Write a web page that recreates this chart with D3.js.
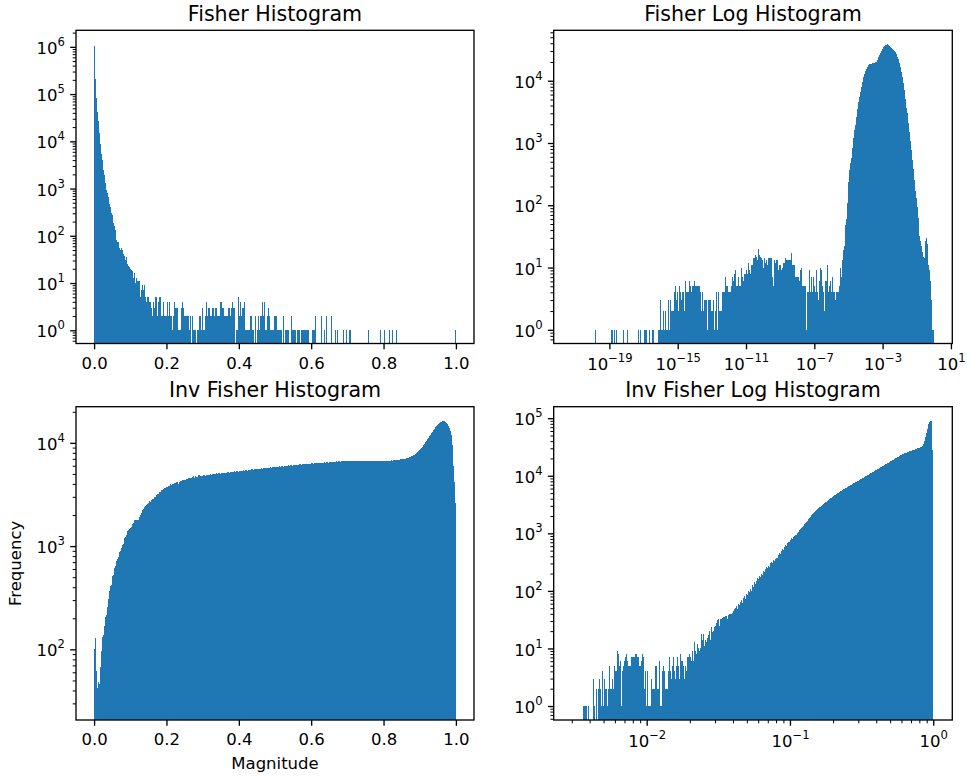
<!DOCTYPE html>
<html lang="en">
<head>
  <meta charset="UTF-8">
  <title>Fisher histograms</title>
  <script src="https://d3js.org/d3.v7.min.js"></script>
  <style>
    body {
      margin: 0;
      background: #fff;
    }
    text {
      font-family: "DejaVu Sans", sans-serif;
    }
  </style>
</head>
<body>
  <script>
    // Counts per bin (one bin is about one pixel wide)
    // Fisher Histogram: 362 linear bins on [0, 1]
    const fisherCounts = [
      1050000,210000,81000,42000,27000,15000,8700,5300,4100,2500,
      1900,1300,950,790,650,480,410,307,273,187,
      160,131,83,73,73,56,49,55,49,41,
      38,30,36,25,23,22,20,19,18,13,
      16,10,13,11,11,11,5,7,9,7,
      9,5,4,5,5,4,4,3,2,4,
      3,5,5,2,4,5,
      5,2,2,4,2,2,2,4,2,4,
      2,2,1,2,4,3,3,3,1,1,
      1,3,4,3,2,2,2,2,2,1,
      2,0,2,1,1,1,0,1,1,2,
      2,1,3,1,1,2,4,2,3,3,
      2,2,3,3,2,3,3,2,2,2,
      4,4,3,3,2,2,2,2,3,3,
      2,3,4,3,3,0,1,1,5,2,
      4,2,3,3,4,1,1,1,1,1,
      2,2,1,1,0,2,0,1,2,1,
      2,2,4,2,4,1,1,2,3,2,
      1,1,1,1,2,2,2,1,1,1,
      1,1,0,2,0,1,1,1,1,0,
      0,2,1,1,1,1,0,1,1,1,
      0,1,1,1,1,1,1,1,1,0,
      0,0,1,1,1,2,0,0,0,0,
      0,2,0,0,1,0,2,0,0,0,
      0,2,0,0,0,1,0,1,0,0,
      0,0,0,1,0,0,1,0,0,1,
      1,0,0,0,0,0,0,0,0,0,
      0,0,0,0,0,0,0,0,1,0,
      0,0,0,0,0,0,0,0,0,0,
      1,0,0,0,1,0,0,0,0,1,
      0,0,1,0,0,0,1,0,0,0,
      0,0,0,0,0,0,0,0,0,0,
      0,0,0,0,0,0,0,0,0,0,
      0,0,0,0,0,0,0,0,0,0,
      0,0,0,0,0,0,0,0,0,0,
      0,0,0,0,0,0,0,0,0,0,
      0,0,0,0,0,1
    ];

    // Fisher Log Histogram: 362 log bins on [1e-21.2, 1]
    const fisherLogCounts = [
      0,0,0,0,0,0,0,0,
      0,0,0,0,0,0,0,0,0,0,
      0,0,0,0,0,1,0,0,0,0,
      0,0,0,0,0,0,0,0,0,0,
      0,1,1,0,1,0,1,0,0,0,
      0,0,0,1,0,0,0,1,0,0,
      0,0,0,0,0,0,0,0,1,0,
      1,0,0,0,1,1,1,0,0,1,
      0,0,1,1,0,0,0,0,1,1,
      3,1,1,2,1,2,1,1,3,1,
      3,2,2,2,4,5,3,4,2,5,
      4,3,4,4,2,6,4,4,4,6,
      5,4,5,5,6,5,5,5,5,5,
      4,2,4,2,3,3,3,1,3,3,
      3,2,2,3,1,2,4,1,4,2,
      2,2,4,4,4,7,5,5,4,4,
      4,5,7,6,8,9,5,5,7,5,
      5,10,7,6,8,8,9,8,12,9,
      8,11,11,14,14,16,15,13,20,16,
      15,14,13,10,14,12,13,11,14,14,
      14,14,7,5,13,12,13,13,9,11,
      11,9,10,12,12,14,13,13,13,13,
      13,17,11,11,11,7,7,7,7,6,
      9,10,5,5,5,5,1,4,4,9,
      4,7,4,7,5,4,9,4,3,6,
      10,9,5,4,2,6,6,11,4,5,
      6,4,7,4,4,3,4,4,4,5,
      10,7,13,19,22,48,60,108,235,370,
      470,570,830,1200,1620,1950,2580,3520,4620,5560,
      6680,8040,9680,11400,12900,14600,15500,16900,17800,18400,
      18900,18900,19100,19100,19500,19800,20300,21600,23800,26000,
      27600,30400,32300,34400,36100,37000,38000,38500,38000,36500,
      35200,33900,32700,31200,30400,29000,26900,24400,22100,19500,
      16900,13600,11300,9100,7100,5050,3610,3000,2130,1530,
      1060,760,540,380,250,172,130,95,62,32,
      27,22,18,15,14,27,30,24,11,9,
      6,3,1,1
    ];

    // Inv Fisher Histogram: 362 linear bins on [0, 1]
    const invCounts = [
      100,130,62,42,48,46,68,96,132,137,
      170,205,215,258,310,366,415,420,515,523,
      617,645,715,745,788,870,905,965,1024,1040,
      1188,1230,1295,1397,1420,1462,1485,1530,1625,1665,
      1785,1785,1785,1785,1785,1905,1995,2115,2215,2285,
      2405,2460,2495,2570,2630,2710,2690,2790,2830,2890,
      3000,3000,3120,3190,3210,3310,3350,3460,3485,3565,
      3620,3670,3700,3750,3830,3860,3950,3890,4010,4010,
      4100,4070,4140,4140,4010,4200,4230,4260,4330,4360,
      4360,4390,4420,4460,4520,4590,4550,4590,4660,4790,
      4590,4820,4720,4720,4860,4860,
      4780,4800,4750,4830,4850,4800,4880,4900,4860,4920,
      4950,4900,4970,5000,4960,5020,5050,5000,5060,5080,
      5040,5100,5120,5080,5140,5160,5110,5180,5200,5150,
      5210,5240,5200,5260,5280,5230,5300,5320,5270,5340,
      5360,5310,5380,5400,5350,5420,5440,5390,5460,5490,
      5440,5520,5540,5490,5560,5580,5530,5600,5620,5570,
      5640,5660,5610,5680,5700,5650,5720,5750,5700,5770,
      5790,5740,5810,5830,5780,5850,5870,5820,5890,5910,
      5860,5930,5950,5900,5980,6000,5950,6020,6040,5990,
      6060,6080,6030,6100,6120,6070,6140,6160,6110,6180,
      6200,6150,6220,6240,6190,6250,6270,6220,6290,6300,
      6250,6320,6340,6290,6350,6370,6320,6390,6400,6350,
      6420,6440,6390,6450,6470,6420,6490,6500,6450,6520,
      6540,6490,6560,6580,6530,6590,6600,6550,6620,6640,
      6590,6650,6670,6620,6680,6700,6650,6700,6720,6660,
      6700,6730,6680,6720,6740,6680,6710,6730,6670,6700,
      6720,6660,6700,6730,6680,6710,6690,6650,6700,6720,
      6660,6690,6710,6650,6680,6700,6640,6670,6690,6630,
      6660,6690,6640,6650,6680,6700,6660,6690,6720,6680,
      6720,6750,6700,6760,6800,6760,6820,6860,6820,6880,
      6920,6900,6960,7000,6980,7050,7100,7080,7160,7250,
      7300,7380,7460,7550,7700,7850,8000,8150,8300,8500,
      8700,8950,9200,9500,9800,10100,10450,10800,11200,11600,
      12000,12400,12800,13200,13700,14100,14500,14900,15200,15500,
      15800,16000,16200,16300,16200,16000,15600,15100,14500,13800,
      13000,11800,9500,6000,4200,2600
    ];

    // Inv Fisher Log Histogram: 362 log bins on [1e-2.522, 1]
    const invLogCounts = [
      0,0,0,0,0,0,0,0,
      0,0,0,1,1,1,1,0,1,0,
      0,0,0,3,1,0,2,0,2,3,
      2,1,4,1,3,2,2,1,2,5,
      2,2,3,2,5,4,4,9,8,5,
      6,1,4,5,6,7,8,6,5,5,
      5,7,7,7,7,8,8,7,7,5,
      5,6,8,7,2,4,1,4,1,1,
      1,3,2,2,2,5,5,2,2,6,
      1,1,4,5,4,2,2,2,4,7,
      4,3,5,7,4,3,5,7,5,3,
      8,6,6,5,3,5,4,7,7,8,
      7,6,9,6,13,9,8,12,10,9,
      10,18,14,18,11,14,13,15,17,20,
      14,24,19,20,24,25,28,31,32,25,
      33,33,34,35,35,36,36,32,38,40,
      39,40,42,44,48,50,55,48,60,56,
      64,70,62,75,80,72,90,85,100,95,
      108,100,125,118,140,132,150,165,158,180,
      175,200,190,220,210,240,255,245,275,265,
      300,315,305,340,330,365,380,370,420,450,
      440,500,530,515,580,620,600,680,720,700,
      760,790,830,810,870,910,950,940,1010,1070,
      1120,1170,1230,1290,1360,1430,1500,1580,1670,1760,
      1860,1960,2060,2170,2260,2350,2440,2530,2620,2720,
      2820,2920,3020,3120,3230,3340,3450,3560,3680,3800,
      3920,4040,4170,4300,4430,4560,4700,4840,4980,5120,
      5260,5400,5540,5680,5820,5960,6100,6250,6400,6550,
      6700,6850,7000,7180,7360,7540,7720,7900,8080,8260,
      8450,8650,8850,9060,9280,9500,9730,9960,10200,10450,
      10700,10960,11230,11500,11780,12060,12350,12650,12960,13280,
      13600,13940,14280,14630,14990,15360,15740,16130,16530,16940,
      17360,17790,18230,18680,19140,19610,20090,20580,21080,21590,
      22100,22600,23050,23500,23950,24400,24850,25300,25750,26200,
      26600,27000,27400,27800,28200,28600,29000,29400,29800,30300,
      30800,31400,32200,33200,35500,40500,47600,55200,65600,79200,
      85100,90600,91000,28300
    ];

    // tick values
    const linearTicks = [0, 0.2, 0.4, 0.6, 0.8, 1.0];
    const fisherYExps = [0, 1, 2, 3, 4, 5, 6];
    const fisherLogXExps = [-19, -15, -11, -7, -3, 1];
    const fisherLogYExps = [0, 1, 2, 3, 4];
    const invYExps = [2, 3, 4];
    const invLogXExps = [-2, -1, 0];
    const invLogYExps = [0, 1, 2, 3, 4, 5];

    const titles = ["Fisher Histogram", "Fisher Log Histogram", "Inv Fisher Histogram", "Inv Fisher Log Histogram"];

    const color = "#1f77b4";
    const tickFont = 16.5;
    const supFont = 11.6;

    const svg = d3.select("body").append("svg")
      .attr("width", 967)
      .attr("height", 776);

    const top1 = {top: 30.3, bottom: 343.5};
    const top2 = {top: 406.7, bottom: 720};
    const left1 = {left: 76, right: 474};
    const left2 = {left: 553.7, right: 952.3};

    const panels = [
      {title: titles[0], box: {...left1, ...top1}, counts: fisherCounts, xLog: false,
       xDomain: [-0.05, 1.05], bins: [0, 1], yDomain: [Math.pow(10, -0.28), Math.pow(10, 6.35)],
       xTicks: linearTicks, yExps: fisherYExps},
      {title: titles[1], box: {...left2, ...top1}, counts: fisherLogCounts, xLog: true,
       xDomain: [Math.pow(10, -22.26), Math.pow(10, 1.08)], bins: [-21.2, 0], yDomain: [Math.pow(10, -0.22), Math.pow(10, 4.81)],
       xExps: fisherLogXExps, yExps: fisherLogYExps, noMinorX: true},
      {title: titles[2], box: {...left1, ...top2}, counts: invCounts, xLog: false,
       xDomain: [-0.05, 1.05], bins: [0, 1], yDomain: [Math.pow(10, 1.316), Math.pow(10, 4.35)],
       xTicks: linearTicks, yExps: invYExps},
      {title: titles[3], box: {...left2, ...top2}, counts: invLogCounts, xLog: true,
       xDomain: [Math.pow(10, -2.649), Math.pow(10, 0.133)], bins: [-2.522, 0], yDomain: [Math.pow(10, -0.243), Math.pow(10, 5.2)],
       xExps: invLogXExps, yExps: invLogYExps}
    ];

    const isPow10 = v => Math.abs(Math.log10(v) - Math.round(Math.log10(v))) < 1e-6;

    function powLabel(text, exp) {
      text.append("tspan").text("10");
      text.append("tspan")
        .attr("dy", -8)
        .attr("font-size", supFont)
        .text(exp < 0 ? "\u2212" + Math.abs(exp) : String(exp));
    }

    function styleTicks(a, width) {
      a.select(".domain").remove();
      a.selectAll("line").attr("stroke", "#000").attr("stroke-width", width);
      a.selectAll(".tick text").remove();
    }

    panels.forEach((p, k) => {
      const b = p.box;
      const g = svg.append("g");

      const x = (p.xLog ? d3.scaleLog() : d3.scaleLinear())
        .domain(p.xDomain)
        .range([b.left, b.right]);
      const y = d3.scaleLog()
        .domain(p.yDomain)
        .range([b.bottom, b.top]);

      // histogram bins
      const n = p.counts.length;
      const edge = i => {
        const t = p.bins[0] + (p.bins[1] - p.bins[0]) * i / n;
        return p.xLog ? Math.pow(10, t) : t;
      };
      const bars = p.counts
        .map((c, i) => ({x0: edge(i), x1: edge(i + 1), c: c}))
        .filter(d => d.c > 0);

      g.append("clipPath").attr("id", "clip" + k)
        .append("rect")
        .attr("x", b.left).attr("y", b.top)
        .attr("width", b.right - b.left).attr("height", b.bottom - b.top);

      g.append("g")
        .attr("clip-path", `url(#clip${k})`)
        .selectAll("rect")
        .data(bars)
        .join("rect")
        .attr("x", d => x(d.x0))
        .attr("width", d => x(d.x1) - x(d.x0))
        .attr("y", d => y(d.c))
        .attr("height", d => b.bottom - y(d.c))
        .attr("fill", color)
        .attr("shape-rendering", "crispEdges");

      // y axis: minor then major ticks
      const yMinor = y.ticks().filter(v => !isPow10(v));
      g.append("g")
        .attr("transform", `translate(${b.left},0)`)
        .call(d3.axisLeft(y).tickValues(yMinor).tickSize(3.3).tickFormat(""))
        .call(a => styleTicks(a, 1));

      const yAxis = g.append("g")
        .attr("transform", `translate(${b.left},0)`)
        .call(d3.axisLeft(y).tickValues(p.yExps.map(e => Math.pow(10, e))).tickSize(5.8).tickFormat(""))
        .call(a => styleTicks(a, 1.33));
      yAxis.selectAll(".tick")
        .append("text")
        .attr("x", -11)
        .attr("y", 6.6)
        .attr("text-anchor", "end")
        .attr("fill", "#000")
        .attr("font-size", tickFont)
        .each(function(d) { powLabel(d3.select(this), Math.round(Math.log10(d))); });

      // x axis
      const xAxisG = g.append("g").attr("transform", `translate(0,${b.bottom})`);
      if (p.xLog) {
        if (!p.noMinorX) {
          const xMinor = x.ticks().filter(v => !isPow10(v));
          g.append("g")
            .attr("transform", `translate(0,${b.bottom})`)
            .call(d3.axisBottom(x).tickValues(xMinor).tickSize(3.3).tickFormat(""))
            .call(a => styleTicks(a, 1));
        }
        xAxisG
          .call(d3.axisBottom(x).tickValues(p.xExps.map(e => Math.pow(10, e))).tickSize(5.8).tickFormat(""))
          .call(a => styleTicks(a, 1.33));
        xAxisG.selectAll(".tick")
          .append("text")
          .attr("y", 26.5)
          .attr("text-anchor", "middle")
          .attr("fill", "#000")
          .attr("font-size", tickFont)
          .each(function(d) { powLabel(d3.select(this), Math.round(Math.log10(d))); });
      } else {
        xAxisG
          .call(d3.axisBottom(x).tickValues(p.xTicks).tickSize(5.8).tickFormat(""))
          .call(a => styleTicks(a, 1.33));
        xAxisG.selectAll(".tick")
          .append("text")
          .attr("y", 25.3)
          .attr("text-anchor", "middle")
          .attr("fill", "#000")
          .attr("font-size", tickFont)
          .text(d => d3.format(".1f")(d));
      }

      // frame
      g.append("rect")
        .attr("x", b.left).attr("y", b.top)
        .attr("width", b.right - b.left).attr("height", b.bottom - b.top)
        .attr("fill", "none")
        .attr("stroke", "#000")
        .attr("stroke-width", 1.33);

      g.append("text")
        .attr("x", (b.left + b.right) / 2)
        .attr("y", b.top - 9.8)
        .attr("text-anchor", "middle")
        .attr("font-size", 20.6)
        .attr("fill", "#000")
        .text(p.title);
    });

    // axis labels on the lower-left panel
    svg.append("text")
      .attr("transform", `translate(21,563.4) rotate(-90)`)
      .attr("text-anchor", "middle")
      .attr("font-size", tickFont)
      .text("Frequency");

    svg.append("text")
      .attr("x", 275)
      .attr("y", 769)
      .attr("text-anchor", "middle")
      .attr("font-size", tickFont)
      .text("Magnitude");
  </script>
</body>
</html>
